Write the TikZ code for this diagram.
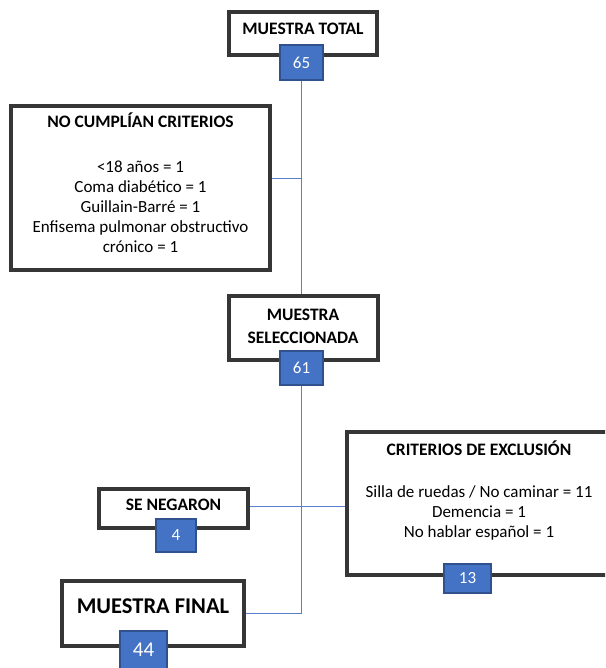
\documentclass[tikz,border=0pt]{standalone}
\usepackage{fontspec}
\setmainfont{Carlito}
\usetikzlibrary{positioning}
\definecolor{boxgray}{HTML}{363636}
\definecolor{numblue}{HTML}{4472C4}
\definecolor{numedge}{HTML}{2F528F}
\definecolor{linkblue}{HTML}{5B7FCB}

\begin{document}
\begin{tikzpicture}[x=1pt, y=-1pt,
  box/.style={draw=boxgray, line width=3.5pt, fill=white, rectangle, inner sep=0pt},
  num/.style={draw=numedge, line width=1.3pt, fill=numblue, text=white, font=\fontsize{17}{20}\selectfont, inner sep=0pt},
  head/.style={font=\fontsize{17.5}{23}\selectfont\bfseries, align=center, anchor=base},
  body/.style={font=\fontsize{17}{20}\selectfont, align=center, anchor=base},
  link/.style={draw=linkblue, line width=1pt}]
\useasboundingbox (0,0) rectangle (605,668);
\clip (0,0) rectangle (605,668);
% --- muestra total ---
\node[box, minimum width=148pt, minimum height=43pt] (total) at (303,33.5) {};
\node[head] (totaltxt) at (303,35) {MUESTRA TOTAL};
\node[num, minimum width=43pt, minimum height=35pt] (n65) at (301.5,62.5) {65};
% --- no cumplian criterios ---
\node[box, minimum width=259pt, minimum height=164pt] (nocump) at (140.5,188) {};
\node[head] (nocumptxt) at (140.5,128) {NO CUMPLÍAN CRITERIOS};
% base of a multi-line node = last line
\node[body] (nocumplist) at (140.5,252) {<18 años = 1\\Coma diabético = 1\\Guillain-Barré = 1\\Enfisema pulmonar obstructivo\\crónico = 1};
% --- muestra seleccionada ---
\node[box, minimum width=149pt, minimum height=64pt] (sel) at (303.5,328) {};
\node[head] (seltxt) at (303,343) {MUESTRA\\SELECCIONADA};
\node[num, minimum width=43pt, minimum height=34pt] (n61) at (301.5,368) {61};
% --- criterios de exclusion ---
\node[box, minimum width=264pt, minimum height=143pt] (excl) at (479,503.5) {};
\node[head] (excltxt) at (479,455) {CRITERIOS DE EXCLUSIÓN};
\node[body] (excllist) at (479,537) {Silla de ruedas / No caminar = 11\\Demencia = 1\\No hablar español = 1};
\node[num, minimum width=47pt, minimum height=29pt] (n13) at (467.5,578.5) {13};
% --- se negaron ---
\node[box, minimum width=149pt, minimum height=39pt] (negaron) at (173.5,508.5) {};
\node[head] (negarontxt) at (173.5,510) {SE NEGARON};
\node[num, minimum width=40pt, minimum height=33pt] (n4) at (176,535.5) {4};
% --- muestra final ---
\node[box, minimum width=182pt, minimum height=65pt] (final) at (153,613.5) {};
\node[head, font=\fontsize{22.5}{26}\selectfont\bfseries] (finaltxt) at (153,613) {MUESTRA FINAL};
\node[num, minimum width=47pt, minimum height=38pt, font=\fontsize{21}{24}\selectfont] (n44) at (143.5,650) {44};
% --- lines ---
\draw[link] (n65.south) -- (n65.south |- sel.north);
\draw[link] ([yshift=9pt]nocump.east) -- ([yshift=9pt]nocump.east -| n65.south);
\draw[link] (n61.south) -- (n61.south |- final.east) -- (final.east);
\draw[link] ([yshift=2.5pt]negaron.east) -- ([yshift=2.5pt]negaron.east -| excl.west);
\end{tikzpicture}
\end{document}
